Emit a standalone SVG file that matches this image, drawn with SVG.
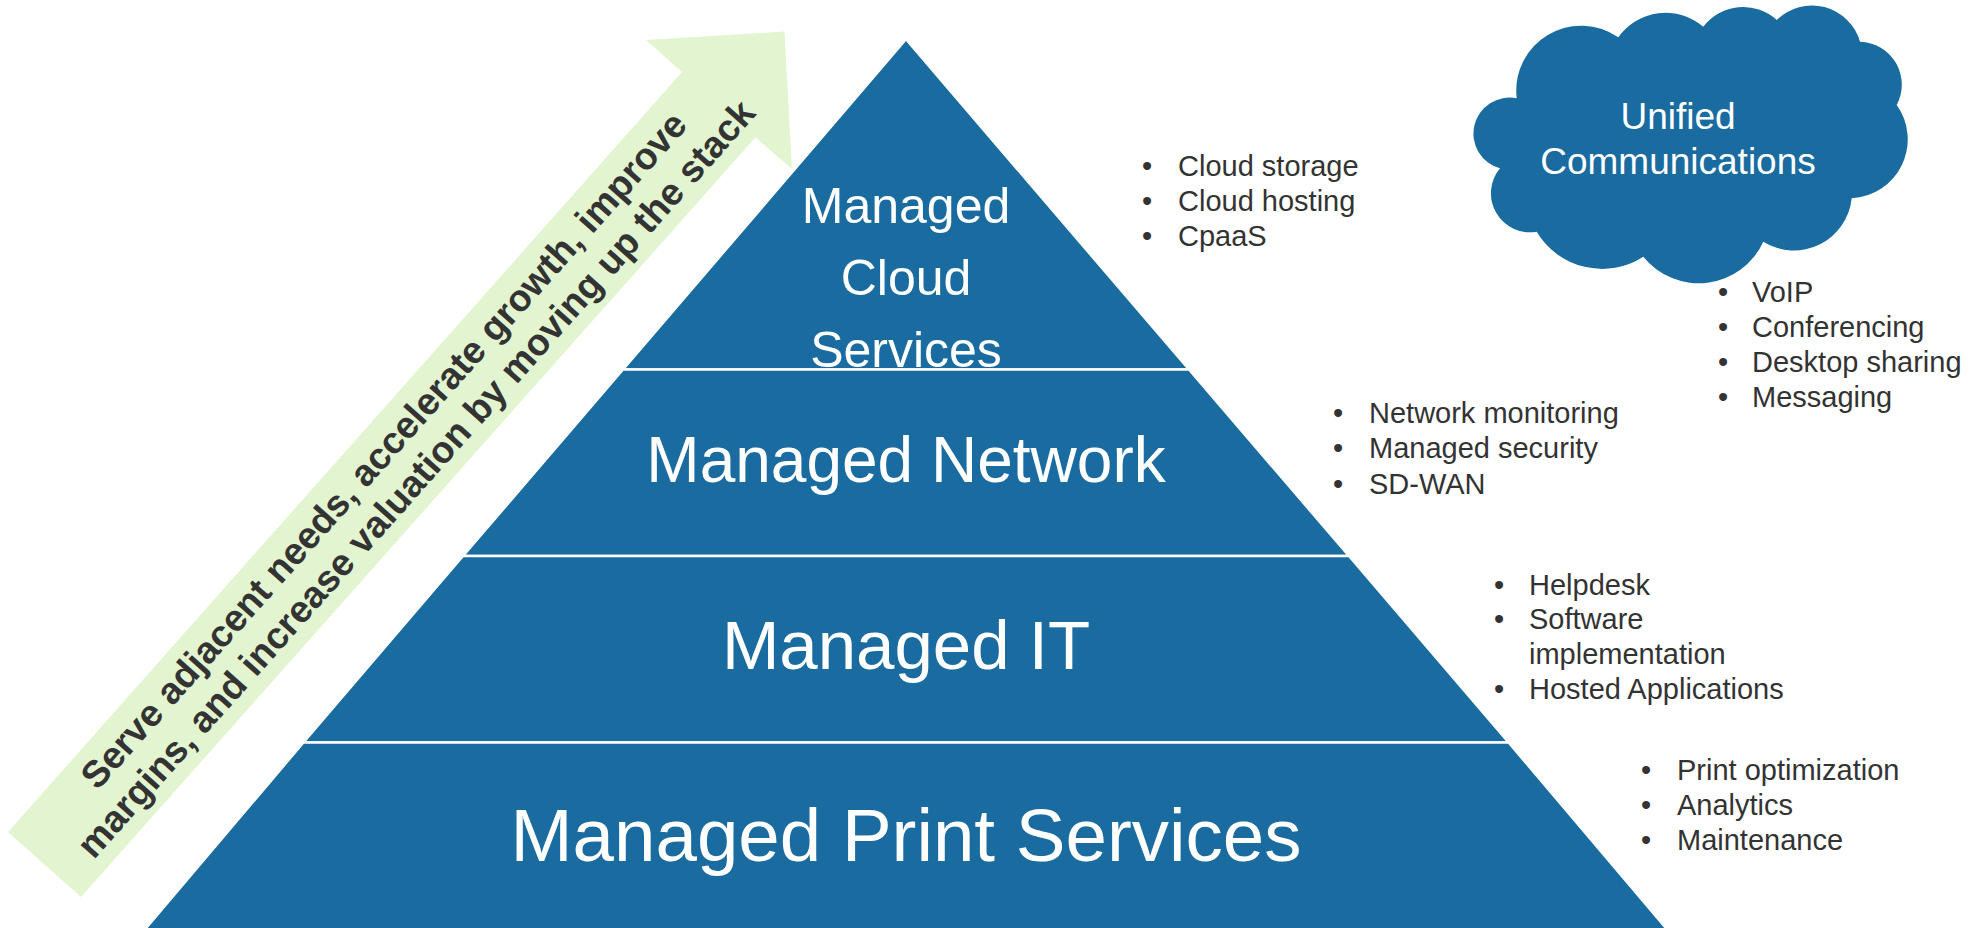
<svg xmlns="http://www.w3.org/2000/svg" width="1975" height="928" viewBox="0 0 1975 928">
  <style>
    .tier { fill: #1a6ba0; stroke: #ffffff; stroke-width: 2.5; stroke-linejoin: miter; }
    .tierText { font-family: "Liberation Sans", Arial, sans-serif; fill: #ffffff; text-anchor: middle; }
    .bullets { font-family: "Liberation Sans", Arial, sans-serif; font-size: 29px; fill: #333333; }
    .arrowText { font-family: "Liberation Sans", Arial, sans-serif; font-weight: bold; font-size: 37.5px; fill: #333333; text-anchor: middle; }
  </style>

  <rect width="1975" height="928" fill="#ffffff"/>

  <!-- growth arrow running up the left flank -->
  <g id="growth-arrow">
    <polygon fill="#e2f5d0" points="8,832 682,72 646,40 784.5,31.5 792,169 755.5,137.3 81,897"/>
    <g transform="translate(400,464.6) rotate(-48.36)">
      <text class="arrowText" x="0" y="-9">Serve adjacent needs, accelerate growth, improve</text>
      <text class="arrowText" x="0" y="34">margins, and increase valuation by moving up the stack</text>
    </g>
  </g>

  <!-- pyramid tiers, top to bottom -->
  <g id="tier-cloud">
    <polygon class="tier" points="906,39.3 1189,369.5 623,369.5"/>
    <text class="tierText" font-size="50" x="906" y="223">Managed</text>
    <text class="tierText" font-size="50" x="906" y="295">Cloud</text>
    <text class="tierText" font-size="50" x="906" y="366.5">Services</text>
  </g>

  <g id="tier-network">
    <polygon class="tier" points="623,369.5 1189,369.5 1349,556 463,556"/>
    <text class="tierText" font-size="64" x="906" y="482">Managed Network</text>
  </g>

  <g id="tier-it">
    <polygon class="tier" points="463,556 1349,556 1508.6,742.5 303.4,742.5"/>
    <text class="tierText" font-size="69" x="906" y="669">Managed IT</text>
  </g>

  <g id="tier-print">
    <polygon class="tier" points="303.4,742.5 1508.6,742.5 1667.6,930 144.4,930"/>
    <text class="tierText" font-size="74.5" x="906" y="861">Managed Print Services</text>
  </g>

  <!-- unified communications cloud -->
  <g id="unified-communications">
    <path fill="#1a6ba0" d="M 1516.7 98.3
      A 65 65 0 0 1 1618.3 37.3
      A 58 58 0 0 1 1703.3 26.7
      A 50 50 0 0 1 1776.7 20
      A 50 50 0 0 1 1860 41.7
      A 43 43 0 0 1 1896.7 105
      A 59 59 0 0 1 1851.7 198.3
      A 58 58 0 0 1 1763.3 241.7
      A 71 71 0 0 1 1643.3 256.7
      A 76 76 0 0 1 1536.7 231.7
      A 39 39 0 0 1 1500 168.3
      A 36 36 0 0 1 1516.7 98.3 Z"/>
    <text class="tierText" font-size="37" x="1678" y="129">Unified</text>
    <text class="tierText" font-size="37" x="1678" y="174">Communications</text>
  </g>

  <!-- offering lists beside each tier -->
  <g id="list-cloud" class="bullets">
    <text y="176"><tspan x="1142">•</tspan><tspan x="1178">Cloud storage</tspan></text>
    <text y="211"><tspan x="1142">•</tspan><tspan x="1178">Cloud hosting</tspan></text>
    <text y="246"><tspan x="1142">•</tspan><tspan x="1178">CpaaS</tspan></text>
  </g>

  <g id="list-network" class="bullets">
    <text y="423"><tspan x="1333">•</tspan><tspan x="1369">Network monitoring</tspan></text>
    <text y="458"><tspan x="1333">•</tspan><tspan x="1369">Managed security</tspan></text>
    <text y="494"><tspan x="1333">•</tspan><tspan x="1369">SD-WAN</tspan></text>
  </g>

  <g id="list-it" class="bullets">
    <text y="595"><tspan x="1494">•</tspan><tspan x="1529">Helpdesk</tspan></text>
    <text y="629"><tspan x="1494">•</tspan><tspan x="1529">Software</tspan></text>
    <text y="664"><tspan x="1529">implementation</tspan></text>
    <text y="699"><tspan x="1494">•</tspan><tspan x="1529">Hosted Applications</tspan></text>
  </g>

  <g id="list-print" class="bullets">
    <text y="780"><tspan x="1641">•</tspan><tspan x="1677">Print optimization</tspan></text>
    <text y="815"><tspan x="1641">•</tspan><tspan x="1677">Analytics</tspan></text>
    <text y="850"><tspan x="1641">•</tspan><tspan x="1677">Maintenance</tspan></text>
  </g>

  <g id="list-uc" class="bullets">
    <text y="302"><tspan x="1718">•</tspan><tspan x="1752">VoIP</tspan></text>
    <text y="337"><tspan x="1718">•</tspan><tspan x="1752">Conferencing</tspan></text>
    <text y="372"><tspan x="1718">•</tspan><tspan x="1752">Desktop sharing</tspan></text>
    <text y="407"><tspan x="1718">•</tspan><tspan x="1752">Messaging</tspan></text>
  </g>

  <!-- no connectors between nodes -->
  <g id="connectors"/>
</svg>
